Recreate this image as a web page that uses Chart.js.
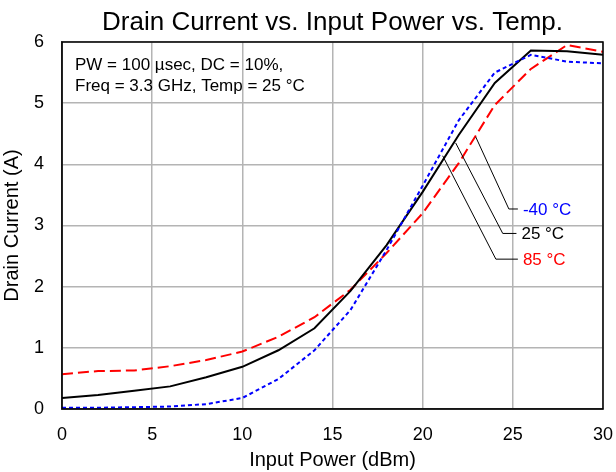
<!DOCTYPE html>
<html>
<head>
<meta charset="utf-8">
<script src="https://cdn.jsdelivr.net/npm/chart.js@4.4.1/dist/chart.umd.min.js"></script>
<style>
  html, body { margin: 0; padding: 0; background: #fff; }
  #wrap { width: 616px; height: 472px; }
</style>
</head>
<body>
<div id="wrap"><canvas id="chart" width="616" height="472"></canvas></div>
<script>
// input power (dBm)
const inputPower = [0, 2, 4, 6, 8, 10, 12, 14, 16, 18, 20, 22, 24, 26, 28, 30];
// drain current (A) per temperature
const currentM40 = [0.02, 0.02, 0.03, 0.04, 0.08, 0.18, 0.49, 0.96, 1.62, 2.6, 3.65, 4.72, 5.5, 5.79, 5.68, 5.65];
const current25 = [0.18, 0.23, 0.30, 0.37, 0.52, 0.69, 0.96, 1.32, 1.93, 2.68, 3.55, 4.48, 5.33, 5.86, 5.85, 5.79];
const current85 = [0.57, 0.62, 0.63, 0.70, 0.80, 0.94, 1.18, 1.50, 1.95, 2.55, 3.2, 4.02, 4.97, 5.56, 5.95, 5.84];
const xTicks = [0, 5, 10, 15, 20, 25, 30];
const yTicks = [0, 1, 2, 3, 4, 5, 6];

// callout labels: [text, colour, from point, elbow point, line end] in data units
const callouts = [
  ['-40 °C', '#0000ff', [22.94, 4.45], [24.78, 3.27], 25.28],
  ['25 °C', '#000000', [21.83, 4.35], [24.44, 2.87], 25.2],
  ['85 °C', '#ff0000', [21.11, 4.14], [24.06, 2.45], 25.28]
];
const noteLines = ['PW = 100 µsec, DC = 10%,', 'Freq = 3.3 GHz, Temp = 25 °C'];
const chartTitle = 'Drain Current vs. Input Power vs. Temp.';

const FONT = 'Liberation Sans, Arial, sans-serif';

const toPoints = arr => arr.map((v, i) => ({ x: inputPower[i], y: v }));

const extras = {
  id: 'extras',
  afterDatasetsDraw(chart) {
    const { ctx, chartArea: a, scales: { x, y } } = chart;
    ctx.save();
    // title, centred over the plot area
    ctx.fillStyle = '#000';
    ctx.font = '26px ' + FONT;
    ctx.textAlign = 'center';
    ctx.textBaseline = 'alphabetic';
    ctx.fillText(chartTitle, (a.left + a.right) / 2, 29.5);
    ctx.textAlign = 'left';
    // callouts
    ctx.lineWidth = 1;
    ctx.strokeStyle = '#000';
    ctx.font = '17px ' + FONT;
    ctx.textBaseline = 'middle';
    callouts.forEach(([txt, col, p0, p1, xe]) => {
      ctx.beginPath();
      ctx.moveTo(x.getPixelForValue(p0[0]), y.getPixelForValue(p0[1]));
      ctx.lineTo(x.getPixelForValue(p1[0]), y.getPixelForValue(p1[1]));
      ctx.lineTo(x.getPixelForValue(xe), y.getPixelForValue(p1[1]));
      ctx.stroke();
      ctx.fillStyle = col;
      ctx.fillText(txt, x.getPixelForValue(xe) + 5, y.getPixelForValue(p1[1]) + 1);
    });
    // note
    ctx.fillStyle = '#000';
    ctx.font = '17px ' + FONT;
    ctx.textBaseline = 'alphabetic';
    noteLines.forEach((t, i) => ctx.fillText(t, a.left + 13, a.top + 28 + i * 21));
    // plot frame
    ctx.strokeStyle = '#000';
    ctx.lineWidth = 1.5;
    ctx.strokeRect(a.left, a.top, a.right - a.left, a.bottom - a.top);
    ctx.restore();
  }
};

new Chart(document.getElementById('chart'), {
  type: 'line',
  data: {
    datasets: [
      {
        label: '-40 °C',
        data: toPoints(currentM40),
        borderColor: '#0000ff',
        borderWidth: 2,
        borderDash: [4, 3],
        pointRadius: 0,
        tension: 0
      },
      {
        label: '25 °C',
        data: toPoints(current25),
        borderColor: '#000000',
        borderWidth: 2,
        pointRadius: 0,
        tension: 0
      },
      {
        label: '85 °C',
        data: toPoints(current85),
        borderColor: '#ff0000',
        borderWidth: 2,
        borderDash: [11, 5],
        pointRadius: 0,
        tension: 0
      }
    ]
  },
  options: {
    responsive: false,
    animation: false,
    layout: { padding: { left: 0, right: 13, top: 42, bottom: 0 } },
    scales: {
      x: {
        type: 'linear',
        min: 0,
        max: 30,
        afterBuildTicks: s => { s.ticks = xTicks.map(v => ({ value: v })); },
        afterFit: s => { s.height = 63; s.paddingLeft = 0; s.paddingRight = 0; },
        ticks: { color: '#000', font: { family: FONT, size: 18 }, padding: 15, maxRotation: 0 },
        grid: { color: '#b4b4b4', lineWidth: 1.5, drawTicks: false },
        border: { color: '#555', width: 1.5 },
        title: { display: true, text: 'Input Power (dBm)', color: '#000', font: { family: FONT, size: 20 }, padding: { top: 0, bottom: 0 } }
      },
      y: {
        min: 0,
        max: 6,
        afterBuildTicks: s => { s.ticks = yTicks.map(v => ({ value: v })); },
        afterFit: s => { s.width = 62; s.paddingTop = 0; s.paddingBottom = 0; },
        ticks: { color: '#000', font: { family: FONT, size: 18 }, padding: 18 },
        grid: { color: '#b4b4b4', lineWidth: 1.5, drawTicks: false },
        border: { color: '#555', width: 1.5 },
        title: { display: true, text: 'Drain Current (A)', color: '#000', font: { family: FONT, size: 20 }, padding: { top: 0, bottom: 0 } }
      }
    },
    plugins: {
      legend: { display: false },
      tooltip: { enabled: false },
      title: { display: false }
    }
  },
  plugins: [extras]
});
</script>
</body>
</html>
